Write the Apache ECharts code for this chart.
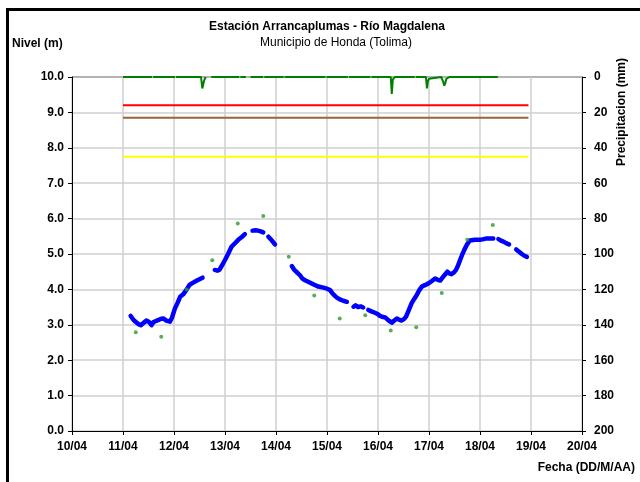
<!DOCTYPE html>
<html><head><meta charset="utf-8">
<script src="https://cdn.jsdelivr.net/npm/echarts@6/dist/echarts.min.js"></script>
<style>html,body{margin:0;padding:0;background:#fff}#c{width:640px;height:482px}</style>
</head><body><div id="c"></div>
<script>
// Nivel (m) - serie horaria (día del mes de abril, fracción de día)
const levelDays = [11.15,11.20,11.24,11.30,11.35,11.40,11.46,11.51,11.56,11.60,11.63,11.70,11.75,11.79,11.85,11.92,11.96,12.02,12.07,12.12,12.18,12.25,12.30,12.35,12.45,12.56,12.68,
12.80,12.85,12.89,12.95,13.00,13.06,13.13,13.20,13.26,13.33,13.39,13.46,
13.54,13.60,13.65,13.70,13.75,13.80,13.85,13.92,13.98,14.15,
14.31,14.36,14.42,14.47,14.52,14.57,14.60,14.67,14.75,14.83,14.93,15.00,15.06,15.10,15.16,15.20,15.25,15.32,15.39,15.45,
15.52,15.56,15.61,15.66,15.71,15.76,
15.81,15.87,15.94,16.00,16.04,16.10,16.14,16.20,16.27,16.32,16.37,16.42,16.46,16.51,16.55,16.60,16.66,16.71,16.76,16.81,16.86,16.92,16.99,17.05,17.12,17.17,17.22,17.29,17.36,17.40,17.44,17.49,17.53,17.57,17.61,17.65,17.69,17.75,17.80,17.90,18.00,18.07,18.13,18.20,18.26,18.31,
18.36,18.41,18.46,18.52,18.57,18.64,
18.71,18.76,18.82,18.87,18.92];
const levelValues = [3.25,3.15,3.09,3.02,2.99,3.05,3.12,3.08,2.99,3.08,3.12,3.14,3.17,3.18,3.12,3.09,3.20,3.47,3.62,3.79,3.86,4.00,4.12,4.17,4.25,4.33,null,
4.55,4.53,4.55,4.70,4.83,5.00,5.21,5.31,5.40,5.48,5.56,null,
5.66,5.67,5.66,5.64,5.61,null,5.49,5.38,5.27,null,
4.66,4.55,4.47,4.40,4.30,4.26,4.31,4.19,4.13,4.08,4.05,4.02,3.98,3.90,3.81,3.76,3.72,3.68,3.65,null,
3.51,3.55,3.50,3.52,3.49,null,
3.42,3.38,3.34,3.30,3.25,3.22,3.21,3.13,3.06,3.12,3.18,3.14,3.12,3.16,3.23,3.40,3.61,3.73,3.84,3.98,4.08,4.12,4.17,4.23,4.31,4.27,4.25,4.38,4.50,4.45,4.43,4.48,4.55,4.68,4.83,4.98,5.11,5.28,5.38,5.40,5.40,5.42,5.44,5.44,5.44,null,
5.42,5.38,5.35,5.30,5.27,null,
5.13,5.07,5.00,4.95,4.92];

// Nivel (m) - lecturas de mira cada 12 h
const obsDays = [11.25,11.75,12.25,12.75,13.25,13.75,14.25,14.75,15.25,15.75,16.25,16.75,17.25,17.75,18.25];
const obsValues = [2.79,2.66,4.00,4.82,5.86,6.07,4.92,3.83,3.18,3.27,2.84,2.93,3.90,5.40,5.82];

// Precipitación (mm)
const rainDays = [11.00,11.57,11.58,11.59,12.02,12.03,12.04,12.53,12.555,12.575,12.59,12.62,12.64,12.73,13.28,13.29,13.30,13.41,13.43,13.50,13.75,13.76,13.77,14.15,14.16,14.17,14.97,14.98,14.99,15.41,15.42,15.43,15.85,15.86,15.87,16.25,16.27,16.29,16.33,16.72,16.73,16.74,16.94,16.96,16.98,17.00,17.03,17.24,17.26,17.28,17.30,17.32,17.34,17.36,17.40,17.80,18.35];
const rainValues = [0,0,null,0,0,null,0,0,6.5,4,2,0,null,0,0,null,0,0,null,0,0,null,0,0,null,0,0,null,0,0,null,0,0,null,0,0,9.6,1.5,0,0,null,0,0,6.4,2.3,1,0,0,1,2.8,4.9,3.5,1,0,0,0,0];

// Umbrales (m)
const thresholdStart = 11.0, thresholdEnd = 18.95;
const thresholdRed = 9.2, thresholdBrown = 8.85, thresholdYellow = 7.75;

const pair = (xs, ys) => xs.map((x, i) => [x, ys[i] === null ? '-' : ys[i]]);
const FONT = 'Liberation Sans, Arial, sans-serif';
const gridColors = ['#cfcfcf','#cfcfcf','#cfcfcf','#cfcfcf','#cfcfcf','#cfcfcf','#cfcfcf','#cfcfcf','#cfcfcf','#cfcfcf','#9a9a9a'];

const chart = echarts.init(document.getElementById('c'), null, {renderer: 'canvas'});
chart.setOption({
  animation: false,
  backgroundColor: '#fff',
  grid: {left: 72, right: 58, top: 77, bottom: 51, containLabel: false},
  xAxis: {
    type: 'value', min: 10, max: 20, interval: 1,
    axisLine: {show: true, onZero: false, lineStyle: {color: '#000', width: 1}},
    axisTick: {show: true, length: 4, lineStyle: {color: '#000'}},
    splitLine: {show: true, lineStyle: {color: '#cfcfcf', width: 1.5}},
    axisLabel: {margin: 10, color: '#000', fontFamily: FONT, fontWeight: 'bold', fontSize: 12,
      formatter: v => String(v).padStart(2, '0') + '/04'}
  },
  yAxis: [{
    type: 'value', min: 0, max: 10, interval: 1,
    axisLine: {show: true, lineStyle: {color: '#000', width: 1}},
    axisTick: {show: true, length: 4, lineStyle: {color: '#000'}},
    splitLine: {show: true, lineStyle: {color: gridColors, width: 1.5}},
    axisLabel: {margin: 8, color: '#000', fontFamily: FONT, fontWeight: 'bold', fontSize: 12,
      formatter: v => v.toFixed(1)}
  }, {
    type: 'value', min: 0, max: 200, interval: 20, inverse: true, position: 'right',
    axisLine: {show: true, lineStyle: {color: '#000', width: 1}},
    axisTick: {show: true, length: 4, lineStyle: {color: '#000'}},
    splitLine: {show: false},
    axisLabel: {margin: 12, color: '#000', fontFamily: FONT, fontWeight: 'bold', fontSize: 12}
  }],
  series: [
    {type: 'line', yAxisIndex: 0, data: [[thresholdStart, thresholdYellow],[thresholdEnd, thresholdYellow]], showSymbol: false, lineStyle: {color: '#ffff00', width: 2}, z: 2},
    {type: 'line', yAxisIndex: 0, data: [[thresholdStart, thresholdBrown],[thresholdEnd, thresholdBrown]], showSymbol: false, lineStyle: {color: '#996633', width: 2}, z: 2},
    {type: 'line', yAxisIndex: 0, data: [[thresholdStart, thresholdRed],[thresholdEnd, thresholdRed]], showSymbol: false, lineStyle: {color: '#ff0000', width: 2}, z: 2},
    {type: 'line', yAxisIndex: 1, data: pair(rainDays, rainValues), showSymbol: false, connectNulls: false,
      lineStyle: {color: '#008000', width: 2}, z: 3},
    {type: 'line', yAxisIndex: 0, data: pair(levelDays, levelValues), showSymbol: false, connectNulls: false,
      lineStyle: {color: '#0000ff', width: 4.5, cap: 'round', join: 'round'}, z: 4},
    {type: 'scatter', yAxisIndex: 0, data: pair(obsDays, obsValues), symbol: 'circle', symbolSize: 4,
      itemStyle: {color: '#2e9a2e'}, z: 5}
  ],
  graphic: [
    {type: 'rect', shape: {x: 7.5, y: 9.5, width: 700, height: 600}, style: {fill: null, stroke: '#000', lineWidth: 3}, silent: true},
    {type: 'text', x: 327, y: 27, style: {text: 'Estación Arrancaplumas - Río Magdalena', font: 'bold 12px ' + FONT, fill: '#000', textAlign: 'center', textVerticalAlign: 'middle'}},
    {type: 'text', x: 336, y: 43, style: {text: 'Municipio de Honda (Tolima)', font: '12px ' + FONT, fill: '#000', textAlign: 'center', textVerticalAlign: 'middle'}},
    {type: 'text', x: 12, y: 44, style: {text: 'Nivel (m)', font: 'bold 12px ' + FONT, fill: '#000', textAlign: 'left', textVerticalAlign: 'middle'}},
    {type: 'text', x: 635, y: 468, style: {text: 'Fecha (DD/M/AA)', font: 'bold 12px ' + FONT, fill: '#000', textAlign: 'right', textVerticalAlign: 'middle'}},
    {type: 'text', x: 622, y: 112, rotation: Math.PI / 2, style: {text: 'Precipitacion (mm)', font: 'bold 12px ' + FONT, fill: '#000', textAlign: 'center', textVerticalAlign: 'middle'}}
  ]
});
</script></body></html>
